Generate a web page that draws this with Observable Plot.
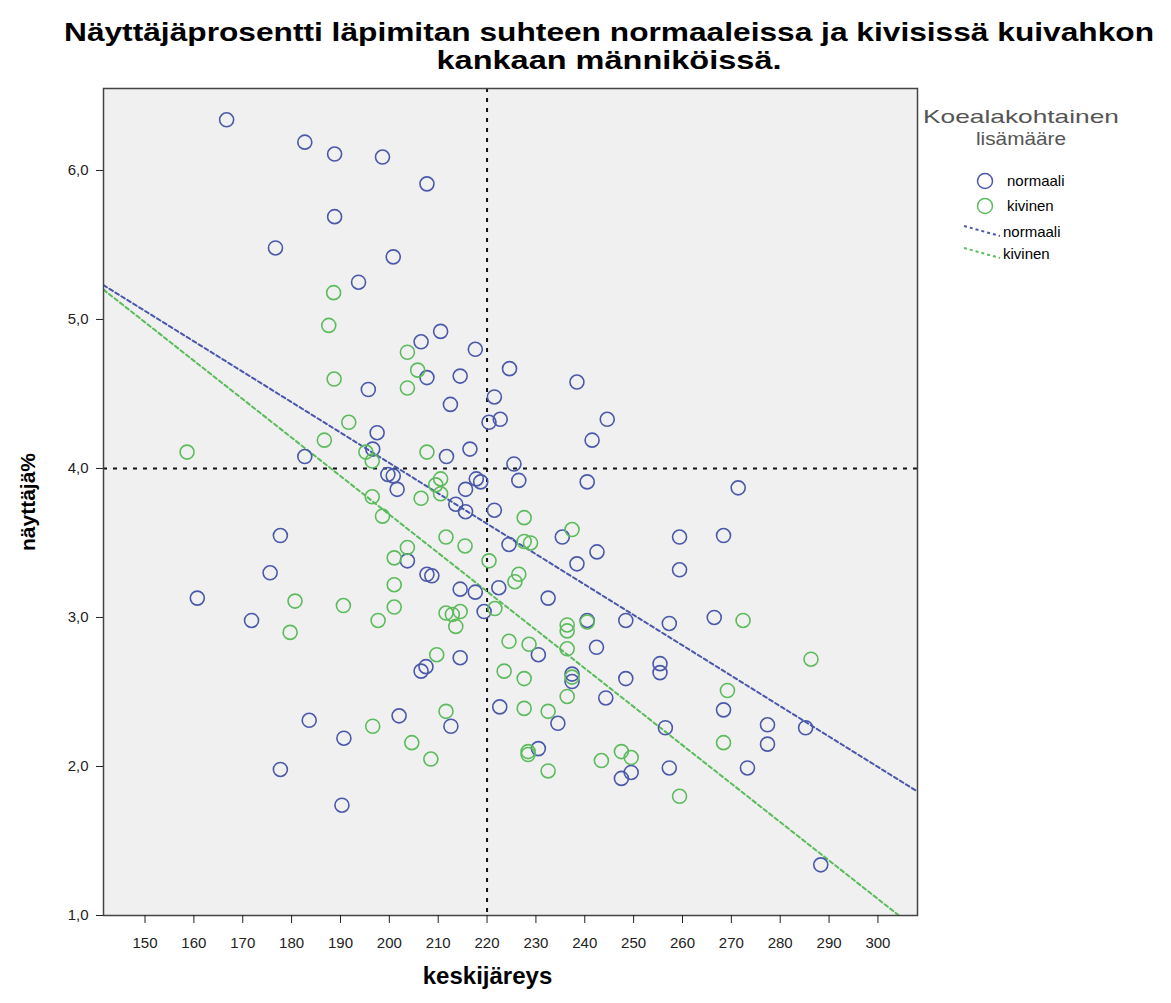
<!DOCTYPE html>
<html><head><meta charset="utf-8">
<script src="https://cdn.jsdelivr.net/npm/d3@7"></script>
<script src="https://cdn.jsdelivr.net/npm/@observablehq/plot@0.6"></script>
<style>
body{margin:0;background:#fff;font-family:"Liberation Sans",Arial,sans-serif;}
#wrap{position:relative;width:1171px;height:1003px;overflow:hidden;}
#title{display:block;}
#legend{position:absolute;left:0;top:0;}
</style>
</head><body>
<div id="wrap">
<svg id="title" width="1171" height="84"></svg>
<div id="chart"></div>
<svg id="legend" width="1171" height="300"></svg>
</div>
<script>
// Title lines
const titleLines = ["Näyttäjäprosentti läpimitan suhteen normaaleissa ja kivisissä kuivahkon", "kankaan männiköissä."];
const titleWidths = [1090, 345];

// Series: normaali (blue)
const normX = [166.7,182.7,188.8,198.6,207.7,188.8,176.7,200.8,193.7,210.5,
  206.5,217.6,224.6,207.7,214.5,238.4,195.7,221.5,212.5,222.7,
  220.4,244.6,197.5,241.5,196.6,182.7,211.7,216.5,225.5,226.5,
  240.5,217.8,218.7,199.7,200.8,201.6,215.6,213.6,215.6,221.5,
  224.5,235.4,242.5,203.7,238.4,207.7,208.7,214.5,217.6,222.4,
  232.5,219.4,240.5,248.4,230.5,242.4,255.4,255.4,214.5,206.5,
  207.5,237.4,237.4,248.4,244.3,202.0,212.6,222.6,234.5,230.5,
  247.5,249.5,177.7,175.6,160.7,171.8,183.6,190.7,177.7,190.3,
  271.4,259.4,268.4,259.4,257.3,266.5,268.4,277.4,277.4,285.2,
  256.5,257.3,273.3,288.3];
const normY = [6.34,6.19,6.11,6.09,5.91,5.69,5.48,5.42,5.25,4.92,
  4.85,4.80,4.67,4.61,4.62,4.58,4.53,4.48,4.43,4.33,
  4.31,4.33,4.24,4.19,4.13,4.08,4.08,4.13,4.03,3.92,
  3.91,3.93,3.91,3.96,3.95,3.86,3.86,3.76,3.71,3.72,
  3.49,3.54,3.44,3.38,3.36,3.29,3.28,3.19,3.17,3.20,
  3.13,3.04,2.98,2.98,2.75,2.80,2.69,2.63,2.73,2.64,
  2.67,2.62,2.57,2.59,2.46,2.34,2.27,2.40,2.29,2.12,
  1.92,1.96,3.55,3.30,3.13,2.98,2.31,2.19,1.98,1.74,
  3.87,3.54,3.55,3.32,2.96,3.00,2.38,2.28,2.15,2.26,
  2.26,1.99,1.99,1.34];
// Series: kivinen (green)
const kivX = [188.6,187.6,188.7,203.7,205.8,203.7,191.7,186.7,195.2,158.6,
  196.5,207.7,210.5,209.5,210.5,196.5,198.6,206.5,227.6,211.6,
  215.5,227.6,228.9,237.4,203.7,201.0,220.4,226.5,225.7,201.0,
  201.0,211.6,212.9,214.5,213.6,221.6,240.5,236.4,236.4,224.5,
  228.6,236.4,209.7,223.5,227.6,237.4,236.4,211.6,204.6,208.5,
  227.6,232.5,228.4,228.4,232.5,243.4,247.5,249.5,180.7,190.6,
  197.7,179.7,196.6,272.4,286.3,269.2,268.4,259.4];
const kivY = [5.18,4.96,4.60,4.78,4.66,4.54,4.31,4.19,4.11,4.11,
  4.05,4.11,3.93,3.89,3.83,3.81,3.68,3.80,3.67,3.54,
  3.48,3.51,3.50,3.59,3.47,3.40,3.38,3.29,3.24,3.22,
  3.07,3.03,3.02,3.04,2.94,3.06,2.97,2.95,2.91,2.84,
  2.82,2.79,2.75,2.64,2.59,2.60,2.47,2.37,2.16,2.05,
  2.39,2.37,2.10,2.08,1.97,2.04,2.10,2.06,3.11,3.08,
  2.98,2.90,2.27,2.98,2.72,2.51,2.16,1.80];

const groups = ["normaali", "kivinen"];
const groupColors = ["#4a58aa", "#5cbb5c"];
const fitIntercept = [8.117, 8.851];
const fitSlope = [-0.0204, -0.0258];
const refX = [220];
const refY = [4];
const xTicks = [150,160,170,180,190,200,210,220,230,240,250,260,270,280,290,300];
const yTicks = [1,2,3,4,5,6];
const xDomain = [141.5, 308.1];
const yDomain = [1.0, 6.55];
const legendTitle = ["Koealakohtainen", "lisämääre"];

// Title
const ts = d3.select("#title");
titleLines.forEach((t, i) => {
  ts.append("text").attr("x", 609).attr("y", 41 + i * 28).attr("text-anchor", "middle")
    .attr("font-size", 26).attr("font-weight", "bold")
    .attr("textLength", titleWidths[i]).attr("lengthAdjust", "spacingAndGlyphs").text(t);
});

const pts = [
  ...normX.map((x, i) => ({x, y: normY[i], g: groups[0]})),
  ...kivX.map((x, i) => ({x, y: kivY[i], g: groups[1]}))
];
const fits = groups.flatMap((g, i) => xDomain.map(x => ({x, y: fitIntercept[i] + fitSlope[i] * x, g})));

const chart = Plot.plot({
  width: 1171, height: 919,
  marginTop: 4, marginLeft: 103, marginRight: 254, marginBottom: 88,
  x: {domain: xDomain},
  y: {domain: yDomain},
  color: {domain: groups, range: groupColors},
  style: {fontFamily: "Liberation Sans, Arial, sans-serif", background: "transparent", overflow: "visible"},
  marks: [
    Plot.frame({fill: "#f0f0f0"}),
    Plot.ruleX(refX, {stroke: "#111", strokeWidth: 2, strokeDasharray: "4,6"}),
    Plot.ruleY(refY, {stroke: "#111", strokeWidth: 2, strokeDasharray: "4,6"}),
    Plot.line(fits, {x: "x", y: "y", z: "g", stroke: "g", strokeWidth: 2, strokeDasharray: "4,3", clip: true}),
    Plot.dot(pts, {x: "x", y: "y", stroke: "g", r: 7, strokeWidth: 1.6}),
    Plot.frame({stroke: "#444", strokeWidth: 1.5}),
    Plot.axisX({ticks: xTicks, tickSize: 8, tickPadding: 14, fontSize: 15, color: "#222", label: null}),
    Plot.axisY({ticks: yTicks, tickSize: 7, tickPadding: 8, fontSize: 15, color: "#222", label: null,
      tickFormat: d => d.toFixed(1).replace(".", ",")}),
    Plot.text(["keskijäreys"], {text: d => d, frameAnchor: "bottom", dx: -23, dy: 68, fontSize: 24, fontWeight: "bold", fill: "#000", textAnchor: "middle"}),
    Plot.text(["näyttäjä%"], {text: d => d, frameAnchor: "left", dx: -75, rotate: -90, fontSize: 21, fontWeight: "bold", fill: "#000", textAnchor: "middle"})
  ]
});
document.getElementById("chart").appendChild(chart);

// Legend
const lg = d3.select("#legend");
legendTitle.forEach((t, i) => {
  lg.append("text").attr("x", 1021).attr("y", 123 + i * 22).attr("text-anchor", "middle")
    .attr("font-size", 19).attr("fill", "#555")
    .attr("textLength", i === 0 ? 196 : 90).attr("lengthAdjust", "spacingAndGlyphs").text(t);
});
groups.forEach((g, i) => {
  const cy = 181 + i * 25;
  lg.append("circle").attr("cx", 985).attr("cy", cy).attr("r", 7.5)
    .attr("fill", "none").attr("stroke", groupColors[i]).attr("stroke-width", 1.5);
  lg.append("text").attr("x", 1007).attr("y", cy + 5).attr("font-size", 15).text(g);
});
groups.forEach((g, i) => {
  const cy = 232 + i * 22;
  lg.append("line").attr("x1", 964).attr("y1", cy - 6).attr("x2", 1000).attr("y2", cy + 4)
    .attr("stroke", groupColors[i]).attr("stroke-width", 2).attr("stroke-dasharray", "3,3");
  lg.append("text").attr("x", 1003).attr("y", cy + 5).attr("font-size", 15).text(g);
});
</script>
</body></html>
